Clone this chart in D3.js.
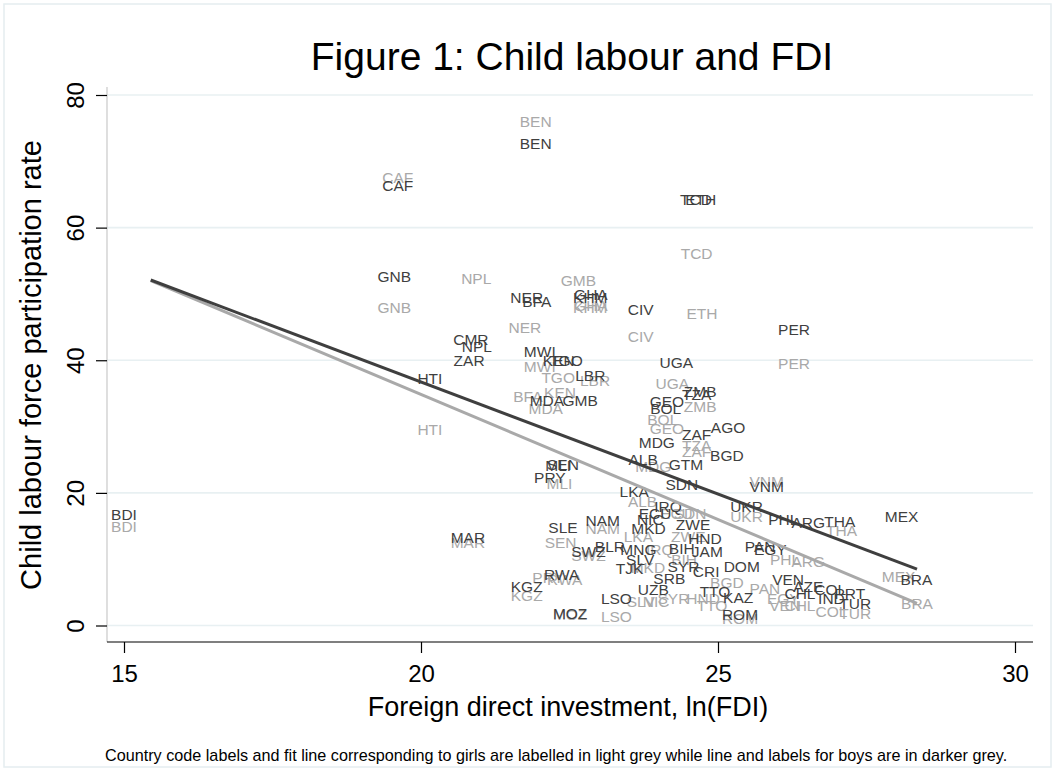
<!DOCTYPE html>
<html>
<head>
<meta charset="utf-8">
<script src="https://cdn.jsdelivr.net/npm/d3@7"></script>
<style>
  html, body { margin: 0; padding: 0; background: #fff; }
  svg { display: block; font-family: "Liberation Sans", Arial, Helvetica, sans-serif; }
</style>
</head>
<body>
<svg id="chart" width="1056" height="771"></svg>
<script>
// Country codes, ln(FDI) and child labour participation rate, boys
const boysCodes = ["BEN","CAF","GNB","NER","BFA","KHM","GHA","CIV","TCD","ETH","PER","CMR","NPL","ZAR","HTI","MWI","KEN","TGO","LBR","UGA","ZMB","TZA","GEO","BOL","MDA","GMB","AGO","ZAF","MDG","BGD","ALB","GTM","SEN","MLI","PRY","SDN","VNM","LKA","UKR","IRQ","ECU","NIC","NAM","SLE","MKD","ZWE","PHL","ARG","THA","MEX","HND","BIH","JAM","PAN","EGY","SWZ","BLR","MNG","SLV","TJK","SYR","CRI","DOM","SRB","RWA","KGZ","UZB","TTO","KAZ","VEN","AZE","CHL","COL","IND","PRT","TUR","BRA","LSO","MOZ","ROM","MAR","BDI"];
const boysFDI = [21.93,19.61,19.55,21.78,21.95,22.85,22.86,23.70,24.63,24.71,26.28,20.84,20.94,20.81,20.15,22.00,22.32,22.44,22.85,24.30,24.70,24.64,24.14,24.12,22.12,22.68,25.17,24.64,23.97,25.15,23.74,24.46,22.39,22.31,22.17,24.39,25.82,23.59,25.48,24.16,23.94,23.86,23.06,22.39,23.83,24.58,26.10,26.52,27.05,28.09,24.78,24.39,24.82,25.71,25.88,22.82,23.18,23.66,23.69,23.51,24.42,24.80,25.40,24.18,22.37,21.78,23.91,24.95,25.34,26.18,26.52,26.38,26.89,26.91,27.22,27.31,28.34,23.29,22.51,25.37,20.79,15.00];
const boysRate = [72.7,66.3,52.6,49.4,48.9,49.5,50.0,47.6,64.2,64.2,44.6,43.2,42.1,39.9,37.2,41.3,40.0,39.9,37.7,39.7,35.3,34.9,33.8,32.8,33.9,33.9,29.8,28.8,27.6,25.6,25.0,24.3,24.3,24.1,22.4,21.3,20.9,20.2,17.9,17.9,16.9,16.0,15.9,14.8,14.7,15.3,16.0,15.5,15.7,16.5,13.2,11.6,11.2,11.9,11.5,11.2,11.9,11.4,10.0,8.6,8.9,8.1,8.9,7.1,7.7,5.9,5.4,5.1,4.3,6.9,5.9,4.9,5.4,4.1,4.9,3.3,6.9,4.1,1.8,1.6,13.3,16.7];

// Country codes, ln(FDI) and child labour participation rate, girls
const girlsCodes = ["BEN","CAF","GNB","NPL","GMB","KHM","GHA","NER","CIV","TCD","ETH","PER","MWI","TGO","LBR","KEN","BFA","MDA","UGA","ZMB","BOL","GEO","TZA","ZAF","MDG","MLI","PRY","HTI","ALB","ECU","SDN","SEN","NAM","LKA","ZWE","SWZ","VNM","UKR","THA","PHL","ARG","MEX","BRA","BGD","PAN","EGY","VEN","CHL","COL","TUR","ROM","RWA","KGZ","LSO","SLV","NIC","SYR","HND","MAR","BDI","MKD","IRQ","BIH","MOZ","TTO"];
const girlsFDI = [21.93,19.61,19.55,20.93,22.65,22.85,22.86,21.75,23.70,24.64,24.73,26.28,22.00,22.31,22.93,22.34,21.80,22.10,24.23,24.70,24.07,24.14,24.64,24.64,23.91,22.33,22.14,20.15,23.73,24.30,24.53,22.35,23.06,23.66,24.50,22.82,25.82,25.48,27.08,26.13,26.52,28.04,28.35,25.15,25.79,26.10,26.13,26.38,26.91,27.31,25.37,22.42,21.78,23.29,23.70,23.96,24.25,24.75,20.79,15.00,23.82,24.02,24.43,22.51,24.90];
const girlsRate = [76.0,67.5,48.0,52.3,52.1,48.0,48.3,44.9,43.6,56.1,47.1,39.5,39.1,37.4,37.0,35.2,34.5,32.8,36.5,33.1,31.1,29.7,27.1,26.3,24.0,21.4,7.2,29.5,18.7,16.9,16.9,12.6,14.7,13.4,13.4,10.6,21.7,16.5,14.4,9.9,9.7,7.4,3.3,6.5,5.6,4.1,3.1,3.1,2.1,1.8,1.1,6.9,4.5,1.3,3.6,3.6,4.1,4.1,12.6,15.0,8.8,11.4,9.9,1.6,3.1];

// Linear fit lines (end points over the fitted range of ln(FDI))
const fitFDI = [15.45, 28.35];
const boysFit = [52.1, 8.5];
const girlsFit = [52.0, 3.35];

// Axis ticks
const xTicks = [15, 20, 25, 30];
const yTicks = [0, 20, 40, 60, 80];

const titleText = "Figure 1: Child labour and FDI";
const xTitle = "Foreign direct investment, ln(FDI)";
const yTitle = "Child labour force participation rate";
const noteText = "Country code labels and fit line corresponding to girls are labelled in light grey while line and labels for boys are in darker grey.";

const darkGrey = "#3f3f3f";
const lightGrey = "#a9a9a9";

const svg = d3.select("#chart");

// outer frame
svg.append("rect")
  .attr("x", 4).attr("y", 4).attr("width", 1047).attr("height", 763)
  .attr("fill", "#fff").attr("stroke", "#e5edf0").attr("stroke-width", 1.5);

const x = d3.scaleLinear().domain([15, 30]).range([124, 1015]);
const y = d3.scaleLinear().domain([0, 80]).range([625.5, 95]);

const plotLeft = 107, plotRight = 1033, plotTop = 87, plotBottom = 642;

// horizontal grid
svg.append("g").selectAll("line").data(yTicks).join("line")
  .attr("x1", plotLeft).attr("x2", plotRight)
  .attr("y1", d => y(d)).attr("y2", d => y(d))
  .attr("stroke", "#e8f0f2").attr("stroke-width", 1.6);

// y axis line (light) and x axis line (black)
svg.append("line")
  .attr("x1", plotLeft).attr("x2", plotLeft).attr("y1", plotTop).attr("y2", plotBottom)
  .attr("stroke", "#c9c9c9").attr("stroke-width", 1.2);
svg.append("line")
  .attr("x1", plotLeft).attr("x2", plotRight).attr("y1", plotBottom).attr("y2", plotBottom)
  .attr("stroke", "#000").attr("stroke-width", 1.2);

// x axis ticks and labels
const xAxis = svg.append("g")
  .attr("transform", `translate(0,${plotBottom})`)
  .call(d3.axisBottom(x).tickValues(xTicks).tickSize(11).tickPadding(12).tickFormat(d3.format("d")));
xAxis.select(".domain").remove();
xAxis.selectAll(".tick line").attr("stroke", "#000").attr("stroke-width", 1.2);
xAxis.selectAll(".tick text")
  .attr("font-size", 24).attr("fill", "#000")
  .attr("font-family", "Liberation Sans, Arial, sans-serif");

// y axis ticks and rotated labels
const yAxis = svg.append("g")
  .attr("transform", `translate(${plotLeft},0)`)
  .call(d3.axisLeft(y).tickValues(yTicks).tickSize(11).tickFormat(d3.format("d")));
yAxis.select(".domain").remove();
yAxis.selectAll(".tick line").attr("stroke", "#000").attr("stroke-width", 1.2);
yAxis.selectAll(".tick text")
  .attr("font-size", 24).attr("fill", "#000")
  .attr("font-family", "Liberation Sans, Arial, sans-serif")
  .attr("x", null).attr("dy", null)
  .attr("text-anchor", "middle")
  .attr("transform", "translate(-23.5,0) rotate(-90)");

// country labels, girls first then boys
function drawLabels(codes, fdi, rate, color) {
  const rows = codes.map((c, i) => ({ code: c, fdi: fdi[i], rate: rate[i] }));
  svg.append("g").selectAll("text").data(rows).join("text")
    .attr("x", d => x(d.fdi))
    .attr("y", d => y(d.rate))
    .attr("dy", "0.36em")
    .attr("text-anchor", "middle")
    .attr("font-size", 15.5)
    .attr("fill", color)
    .text(d => d.code);
}
drawLabels(girlsCodes, girlsFDI, girlsRate, lightGrey);
drawLabels(boysCodes, boysFDI, boysRate, darkGrey);

// fit lines
const line = d3.line().x(d => x(d[0])).y(d => y(d[1]));
svg.append("path")
  .attr("d", line(fitFDI.map((v, i) => [v, girlsFit[i]])))
  .attr("fill", "none").attr("stroke", lightGrey).attr("stroke-width", 3);
svg.append("path")
  .attr("d", line(fitFDI.map((v, i) => [v, boysFit[i]])))
  .attr("fill", "none").attr("stroke", darkGrey).attr("stroke-width", 3);

// titles
svg.append("text")
  .attr("x", 572).attr("y", 70)
  .attr("text-anchor", "middle").attr("font-size", 39).attr("fill", "#000")
  .text(titleText);
svg.append("text")
  .attr("x", 568).attr("y", 716)
  .attr("text-anchor", "middle").attr("font-size", 27).attr("fill", "#000")
  .text(xTitle);
svg.append("text")
  .attr("transform", "translate(41,365) rotate(-90)")
  .attr("text-anchor", "middle").attr("font-size", 29).attr("fill", "#000")
  .text(yTitle);
svg.append("text")
  .attr("x", 105).attr("y", 761)
  .attr("font-size", 16.2).attr("fill", "#000")
  .text(noteText);
</script>
</body>
</html>
